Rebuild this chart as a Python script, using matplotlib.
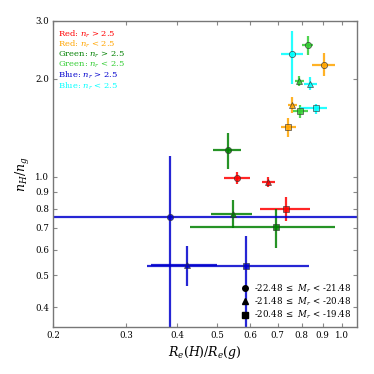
import matplotlib
matplotlib.use('Agg')
import matplotlib.pyplot as plt
from matplotlib.lines import Line2D
import numpy as np

plt.rcParams['font.family'] = 'DejaVu Serif'
plt.rcParams['mathtext.fontset'] = 'dejavuserif'

# groups: (label, colour)
groups = ['Red: $n_r$ > 2.5', 'Red: $n_r$ < 2.5', 'Green: $n_r$ > 2.5',
          'Green: $n_r$ < 2.5', 'Blue: $n_r$ > 2.5', 'Blue: $n_r$ < 2.5']
colors = ['red', 'orange', 'green', 'limegreen', 'mediumblue', 'cyan']

# magnitude bins -> marker
mag_labels = [r'-22.48 $\leq$ $M_r$ < -21.48',
              r'-21.48 $\leq$ $M_r$ < -20.48',
              r'-20.48 $\leq$ $M_r$ < -19.48']
markers = ['o', '^', 's']

# per group, per magnitude bin: x, x_lo, x_hi, y, y_lo, y_hi
x_val = [[0.559, 0.665, 0.733],
         [0.908, 0.758, 0.743],
         [0.530, 0.544, 0.695],
         [0.828, 0.790, 0.793],
         [0.383, 0.423, 0.586],
         [0.760, 0.840, 0.865]]
x_lo = [[0.519, 0.641, 0.633],
        [0.849, 0.741, 0.712],
        [0.488, 0.482, 0.428],
        [0.802, 0.770, 0.762],
        [0.120, 0.346, 0.338],
        [0.715, 0.811, 0.791]]
x_hi = [[0.599, 0.689, 0.837],
        [0.966, 0.780, 0.777],
        [0.570, 0.605, 0.962],
        [0.852, 0.811, 0.829],
        [1.600, 0.499, 0.832],
        [0.806, 0.873, 0.924]]
y_val = [[0.993, 0.963, 0.798],
         [2.205, 1.660, 1.420],
         [1.207, 0.769, 0.705],
         [2.530, 1.962, 1.590],
         [0.753, 0.538, 0.535],
         [2.370, 1.930, 1.620]]
y_lo = [[0.952, 0.930, 0.733],
        [2.030, 1.567, 1.323],
        [1.058, 0.700, 0.605],
        [2.355, 1.900, 1.518],
        [0.250, 0.465, 0.250],
        [1.925, 1.850, 1.557]]
y_hi = [[1.034, 1.003, 0.867],
        [2.390, 1.750, 1.518],
        [1.360, 0.851, 0.798],
        [2.700, 2.040, 1.660],
        [1.160, 0.615, 0.661],
        [2.800, 2.020, 1.670]]

xticks = [0.2, 0.3, 0.4, 0.5, 0.6, 0.7, 0.8, 0.9, 1.0]
yticks = [0.4, 0.5, 0.6, 0.7, 0.8, 0.9, 1.0, 2.0, 3.0]

fig = plt.figure(figsize=(3.74, 3.74), dpi=100)
ax = fig.add_axes([0.1425, 0.126, 0.812, 0.818])

for g in range(len(groups)):
    for m in range(3):
        x = x_val[g][m]
        y = y_val[g][m]
        xerr = [[x - x_lo[g][m]], [x_hi[g][m] - x]]
        yerr = [[y - y_lo[g][m]], [y_hi[g][m] - y]]
        ax.errorbar([x], [y], xerr=xerr, yerr=yerr, fmt=markers[m],
                    color=colors[g], ecolor=colors[g], elinewidth=1.6,
                    capsize=0, ms=4.5, mec='#333333', mew=0.5, alpha=0.85)

ax.set_xscale('log')
ax.set_yscale('log')
ax.set_xlim(0.2, 1.09)
ax.set_ylim(0.348, 3.0)
ax.set_xticks(xticks)
ax.set_xticklabels(['%.1f' % t for t in xticks])
ax.set_yticks(yticks)
ax.set_yticklabels(['%.1f' % t for t in yticks])
ax.minorticks_off()
ax.tick_params(direction='in', top=True, right=True, labelsize=6.2, length=3,
               color='#888888', pad=3)
for s in ax.spines.values():
    s.set_color('#777777')
    s.set_linewidth(1.0)

ax.set_xlabel('$R_e(H)/R_e(g)$', fontsize=9, labelpad=3)
ax.set_ylabel('$n_H/n_g$', fontsize=9, labelpad=2)

for i in range(len(groups)):
    ax.text(0.017, 0.975 - i * 0.034, groups[i], color=colors[i], fontsize=6,
            transform=ax.transAxes, va='top', ha='left')

handles = [Line2D([], [], marker=mk, color='k', ls='none', ms=4) for mk in markers]
ax.legend(handles, mag_labels, loc='lower right', bbox_to_anchor=(1.0, 0.0),
          frameon=False, fontsize=6.2, handletextpad=0.4, labelspacing=0.1,
          handlelength=1.2, borderaxespad=0.25)

fig.savefig('out.png', dpi=100)
